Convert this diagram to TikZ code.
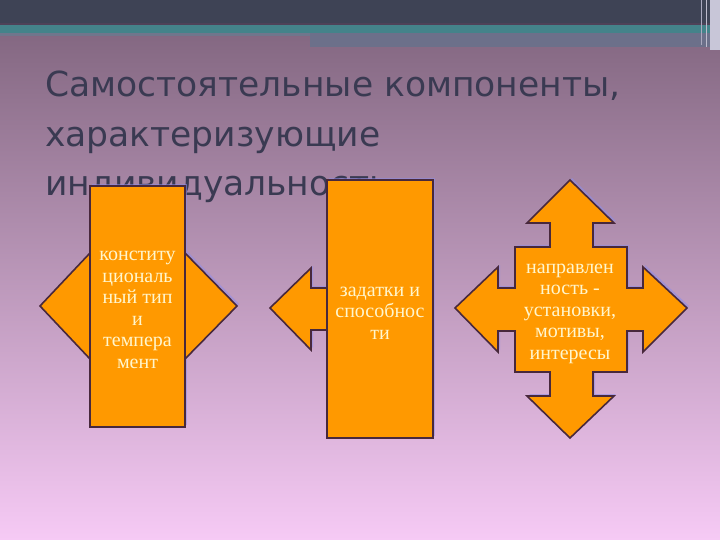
\documentclass[tikz,border=0pt]{standalone}
\usepackage{fontspec}
\setmainfont{Liberation Serif}
\newfontfamily\titlefont{DejaVu Sans}
\definecolor{topband}{RGB}{62,67,85}
\definecolor{darkline}{RGB}{78,66,88}
\definecolor{tealband}{RGB}{68,131,138}
\definecolor{transband}{RGB}{112,118,140}
\definecolor{greyband}{RGB}{108,112,138}
\definecolor{lightedge}{RGB}{200,198,216}
\definecolor{edgeline1}{RGB}{170,168,190}
\definecolor{edgeline2}{RGB}{190,188,205}
\definecolor{bgtop}{RGB}{132,104,130}
\definecolor{bgbot}{RGB}{246,202,245}
\definecolor{titleC}{RGB}{58,58,82}
\definecolor{orangeF}{RGB}{255,153,0}
\definecolor{outlineC}{RGB}{72,40,60}
\definecolor{creamC}{RGB}{255,246,205}
\definecolor{glowC}{RGB}{140,140,235}
\begin{document}
\begin{tikzpicture}[x=1pt,y=-1pt,
  shapefill/.style={fill=orangeF, draw=outlineC, line width=1.6pt, line join=miter},
  glow/.style={fill=glowC, opacity=0.55},
  bodytext/.style={text=creamC, font=\fontsize{20}{21.5}\selectfont, align=center, inner sep=0pt},
  titletext/.style={text=titleC, font=\titlefont\fontsize{34.5}{40}\selectfont, anchor=base west, inner sep=0pt}]
\useasboundingbox (0,0) rectangle (720,540);
% background
\shade[top color=bgtop, bottom color=bgbot] (0,34) rectangle (720,540);
\fill[topband] (0,0) rectangle (720,23);
\fill[darkline] (0,23) rectangle (720,25);
\fill[tealband] (0,25) rectangle (720,33);
\fill[transband] (0,33) rectangle (720,36);
\fill[greyband] (310,33) rectangle (720,47);
\fill[lightedge] (710,0) rectangle (720,50);
\draw[edgeline1, line width=1pt] (701,0) -- (701,45);
\draw[edgeline2, line width=1pt] (706,0) -- (706,47);
% title
\node[titletext] (title1) at (45,97) {Самостоятельные компоненты,};
\node[titletext] (title2) at (45,147) {характеризующие};
\node[titletext] (title3) at (45,196) {индивидуальность};
% glow shadows
\begin{scope}[shift={(2,-2)}]
\fill[glow] (40,306) -- (90,253) -- (90,282) -- (185,282) -- (185,253) -- (237,306) -- (185,359) -- (185,330) -- (90,330) -- (90,359) -- cycle;
\fill[glow] (90,186) rectangle (185,427);
\fill[glow] (270,308) -- (311,268) -- (311,288) -- (340,288) -- (340,330) -- (311,330) -- (311,350) -- cycle;
\fill[glow] (327,180) rectangle (433,438);
\fill[glow] (570,180) -- (614,223) -- (593,223) -- (593,247) -- (627,247) -- (627,288) -- (643,288) -- (643,267) -- (687,308) -- (643,352) -- (643,331) -- (627,331) -- (627,372) -- (593,372) -- (593,396) -- (614,396) -- (570,438) -- (527,396) -- (550,396) -- (550,372) -- (515,372) -- (515,331) -- (498,331) -- (498,352) -- (455,308) -- (498,267) -- (498,288) -- (515,288) -- (515,247) -- (550,247) -- (550,223) -- (527,223) -- cycle;
\end{scope}
% shape 1
\draw[shapefill] (40,306) -- (90,253) -- (90,282) -- (185,282) -- (185,253) -- (237,306) -- (185,359) -- (185,330) -- (90,330) -- (90,359) -- cycle;
\draw[shapefill] (90,186) rectangle (185,427);
\node[bodytext] (t1) at (137.5,310) {конститу\\циональ\\ный тип\\и\\темпера\\мент};
% shape 2
\draw[shapefill] (270,308) -- (311,268) -- (311,288) -- (340,288) -- (340,330) -- (311,330) -- (311,350) -- cycle;
\draw[shapefill] (327,180) rectangle (433,438);
\node[bodytext] (t2) at (380,313) {задатки и\\способнос\\ти};
% shape 3
\draw[shapefill] (570,180) -- (614,223) -- (593,223) -- (593,247) -- (627,247) -- (627,288) -- (643,288) -- (643,267) -- (687,308) -- (643,352) -- (643,331) -- (627,331) -- (627,372) -- (593,372) -- (593,396) -- (614,396) -- (570,438) -- (527,396) -- (550,396) -- (550,372) -- (515,372) -- (515,331) -- (498,331) -- (498,352) -- (455,308) -- (498,267) -- (498,288) -- (515,288) -- (515,247) -- (550,247) -- (550,223) -- (527,223) -- cycle;
\node[bodytext] (t3) at (570,313.5) {направлен\\ность -\\установки,\\мотивы,\\интересы};
\end{tikzpicture}
\end{document}
